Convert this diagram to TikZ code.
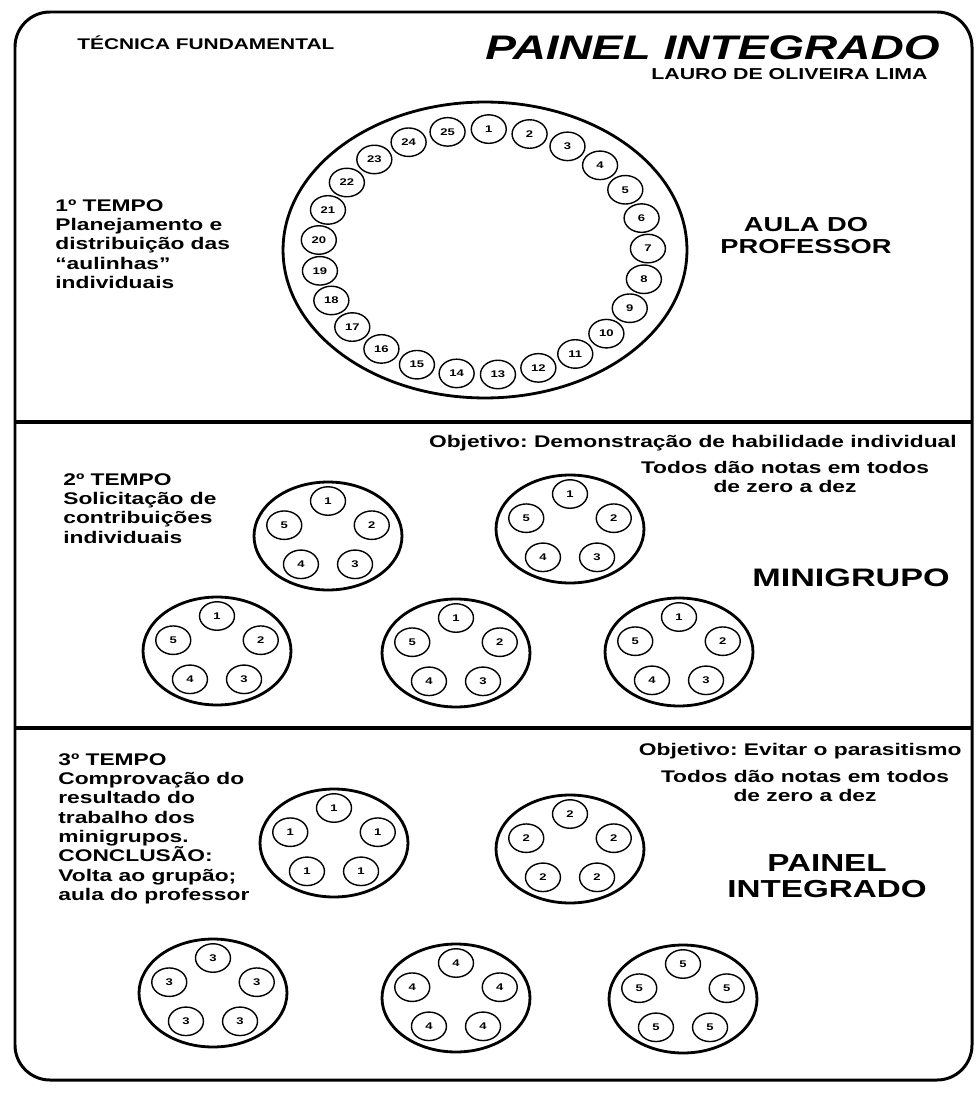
\documentclass[tikz,border=0pt]{standalone}
\usepackage{fontspec}
\setmainfont[FakeStretch=1.35]{Liberation Sans}
\usetikzlibrary{shapes.geometric}
\frenchspacing

\tikzset{
  seat/.style={draw, ellipse, line width=0.8pt, inner sep=0pt,
    minimum width=0.7cm, minimum height=0.57cm,
    font=\fontsize{5.5}{6}\selectfont\bfseries},
  grupo/.style={draw, ellipse, line width=1.6pt, inner sep=0pt,
    minimum width=2.96cm, minimum height=2.16cm},
  tempo/.style={align=left, inner sep=0pt, anchor=north west,
    font=\fontsize{9.6}{11}\selectfont\bfseries},
  nota/.style={align=center, inner sep=0pt,
    font=\fontsize{9.6}{11}\selectfont\bfseries},
  divisa/.style={line width=1.8pt},
}

\begin{document}
\begin{tikzpicture}[x=0.02cm, y=-0.02cm]
\useasboundingbox (0,0) rectangle (977,1095);

% moldura e faixas
\draw[line width=1.7pt, rounded corners=0.7cm] (15,12) rectangle (972,1080);
\coordinate (f1w) at (15,422);  \coordinate (f1e) at (972,422);
\coordinate (f2w) at (15,728);  \coordinate (f2e) at (972,728);
\draw[divisa] (f1w) -- (f1e);
\draw[divisa] (f2w) -- (f2e);

% cabecalho
\node[anchor=base west, inner sep=0pt, font=\fontsize{8.8}{11}\selectfont\bfseries] (tecnica) at (77,50) {TÉCNICA FUNDAMENTAL};
\node[anchor=base east, inner sep=0pt, font=\fontsize{19.4}{22}\selectfont\bfseries\itshape] (titulo) at (940,60) {PAINEL INTEGRADO};
\node[anchor=base east, inner sep=0pt, font=\fontsize{9}{11}\selectfont\bfseries] (autor) at (928,80) {LAURO DE OLIVEIRA LIMA};

% 1o tempo
\node[tempo] (tempo1) at (55,199) {1º TEMPO\\Planejamento e\\distribuição das\\“aulinhas”\\individuais};
\node[draw, ellipse, line width=1.6pt, inner sep=0pt, minimum width=8.08cm, minimum height=5.92cm] (aula) at (485,250) {};
\foreach \k in {1,...,25}
  \node[seat] (al-\k) at ({483+165*cos(14.4*\k-102.4)},{252+123*sin(14.4*\k-102.4)}) {\k};
\node[nota, font=\fontsize{11.5}{12.5}\selectfont\bfseries] (professor) at (806,236) {AULA DO\\PROFESSOR};

% 2o tempo
\node[tempo] (tempo2) at (63,473) {2º TEMPO\\Solicitação de\\contribuições\\individuais};
\node[nota, anchor=base east] (obj2) at (957,447) {Objetivo: Demonstração de habilidade individual};
\node[nota] (notas2) at (785,477) {Todos dão notas em todos\\de zero a dez};
\foreach \g/\cx/\cy in {a/328/536, b/570/529, c/217/651, d/456/653, e/679/652} {
  \node[grupo] (mg-\g) at (\cx,\cy) {};
  \foreach \k in {1,...,5}
    \node[seat] (mg-\g-\k) at ({\cx+46*cos(72*\k-162)},{\cy+35*sin(72*\k-162)}) {\k};
}
\node[nota, font=\fontsize{14.4}{16}\selectfont\bfseries] (minigrupo) at (851,578) {MINIGRUPO};

% 3o tempo
\node[tempo] (tempo3) at (58,753) {3º TEMPO\\Comprovação do\\resultado do\\trabalho dos\\minigrupos.\\CONCLUSÃO:\\Volta ao grupão;\\aula do professor};
\node[nota, anchor=base east] (obj3) at (962,755) {Objetivo: Evitar o parasitismo};
\node[nota] (notas3) at (805,786) {Todos dão notas em todos\\de zero a dez};
\foreach \g/\cx/\cy in {1/334/843, 2/570/849, 3/213/993, 4/456/998, 5/683/999} {
  \node[grupo] (pi-\g) at (\cx,\cy) {};
  \foreach \k in {1,...,5}
    \node[seat] (pi-\g-\k) at ({\cx+46*cos(72*\k-162)},{\cy+35*sin(72*\k-162)}) {\g};
}
\node[nota, font=\fontsize{14}{14.8}\selectfont\bfseries] (painel) at (827,876) {PAINEL\\INTEGRADO};
\end{tikzpicture}
\end{document}
